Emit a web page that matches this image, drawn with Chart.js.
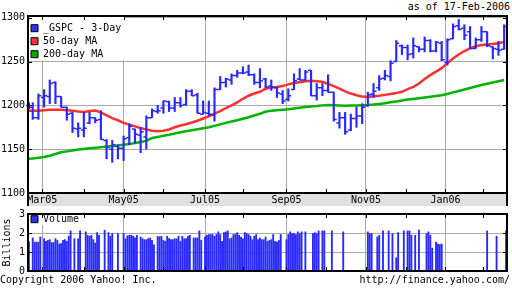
<!DOCTYPE html>
<html>
<head>
<meta charset="utf-8">
<script src="https://cdn.jsdelivr.net/npm/chart.js@4.4.0/dist/chart.umd.min.js"></script>
<style>
  body { margin: 0; width: 512px; height: 288px; background: #fff; position: relative; overflow: hidden;
         font: 10px 'DejaVu Sans Mono', monospace; color: #000; }
  #priceBox { position: absolute; left: 0; top: 0; width: 512px; height: 206px; }
  #volBox { position: absolute; left: 0; top: 205px; width: 512px; height: 83px; }
  .txt { position: absolute; white-space: pre; line-height: 12px; }
</style>
</head>
<body>
<div class="txt" style="right:2px; top:1px">as of 17-Feb-2006</div>
<div id="priceBox"><canvas id="priceChart"></canvas></div>
<div id="volBox"><canvas id="volChart"></canvas></div>
<div class="txt" style="left:0; top:274px">Copyright 2006 Yahoo! Inc.</div>
<div class="txt" style="right:2px; top:274px">http://finance.yahoo.com/</div>
<script>
// trading calendar
const firstDay = '2005-02-17';
const lastDay = '2006-02-17';
const holidays = ['2005-02-21', '2005-03-25', '2005-05-30', '2005-07-04', '2005-09-05',
                  '2005-11-24', '2005-12-26', '2006-01-02', '2006-01-16'];
const monNames = ['Jan', 'Feb', 'Mar', 'Apr', 'May', 'Jun', 'Jul', 'Aug', 'Sep', 'Oct', 'Nov', 'Dec'];
const majorMonths = ['Mar05', 'May05', 'Jul05', 'Sep05', 'Nov05', 'Jan06'];
const priceTicks = [1100, 1150, 1200, 1250, 1300];
const volTicks = [0, 1, 2, 3];

// 3-day bars, oldest first (first one is a single day)
const barOpen = [1200, 1198, 1186, 1209, 1210, 1226, 1210, 1198, 1191, 1173,
                 1172, 1180, 1186, 1184, 1160, 1150, 1153, 1151, 1163, 1173,
                 1166, 1164, 1186, 1193, 1197, 1204, 1197, 1203, 1201, 1216,
                 1212, 1190, 1191, 1189, 1218, 1226, 1229, 1234, 1237, 1238,
                 1235, 1226, 1230, 1222, 1220, 1213, 1207, 1218, 1230, 1229,
                 1240, 1211, 1220, 1217, 1215, 1180, 1186, 1172, 1185, 1188,
                 1200, 1213, 1220, 1231, 1233, 1250, 1268, 1266, 1259, 1267,
                 1264, 1274, 1262, 1271, 1249, 1276, 1291, 1288, 1284, 1265,
                 1275, 1284, 1267, 1264, 1264];
const barHigh = [1203, 1203, 1213, 1218, 1229, 1227, 1210, 1198, 1192, 1180,
                 1192, 1192, 1186, 1194, 1161, 1160, 1155, 1165, 1179, 1173,
                 1175, 1188, 1196, 1200, 1205, 1205, 1209, 1209, 1218, 1218,
                 1214, 1205, 1205, 1220, 1233, 1231, 1236, 1240, 1244, 1246,
                 1236, 1242, 1231, 1229, 1221, 1217, 1219, 1236, 1242, 1240,
                 1240, 1225, 1225, 1235, 1215, 1192, 1192, 1190, 1198, 1202,
                 1215, 1225, 1234, 1240, 1251, 1274, 1269, 1269, 1277, 1267,
                 1278, 1275, 1273, 1273, 1276, 1293, 1298, 1292, 1290, 1277,
                 1290, 1284, 1267, 1273, 1292];
const barLow = [1196, 1184, 1184, 1198, 1202, 1202, 1198, 1183, 1169, 1164,
                1164, 1179, 1180, 1161, 1139, 1135, 1139, 1137, 1155, 1157,
                1146, 1150, 1186, 1191, 1191, 1193, 1193, 1198, 1200, 1211,
                1191, 1190, 1188, 1182, 1218, 1221, 1224, 1232, 1236, 1234,
                1224, 1220, 1220, 1217, 1209, 1202, 1205, 1218, 1229, 1229,
                1211, 1206, 1211, 1215, 1182, 1174, 1167, 1171, 1175, 1179,
                1199, 1209, 1217, 1229, 1228, 1250, 1258, 1252, 1254, 1261,
                1261, 1261, 1261, 1251, 1246, 1276, 1286, 1275, 1265, 1265,
                1273, 1267, 1253, 1257, 1264];
const barClose = [1198, 1186, 1211, 1211, 1225, 1210, 1198, 1190, 1174, 1174,
                  1174, 1186, 1183, 1161, 1152, 1155, 1151, 1162, 1176, 1167,
                  1170, 1186, 1194, 1194, 1205, 1197, 1203, 1200, 1216, 1211,
                  1191, 1192, 1190, 1218, 1226, 1230, 1234, 1237, 1237, 1235,
                  1226, 1228, 1221, 1221, 1214, 1205, 1211, 1228, 1229, 1238,
                  1211, 1220, 1217, 1215, 1184, 1186, 1170, 1185, 1188, 1198,
                  1212, 1216, 1230, 1234, 1248, 1271, 1266, 1258, 1268, 1264,
                  1274, 1262, 1272, 1252, 1275, 1290, 1287, 1280, 1265, 1275,
                  1284, 1268, 1265, 1263, 1290];

// moving averages read at each bar
const ma50 = [1194, 1194, 1194, 1194.5, 1195, 1195, 1195, 1194.5, 1194, 1193,
              1192.5, 1193.5, 1194, 1192, 1188.5, 1185.5, 1183, 1180, 1178, 1176,
              1174, 1172.5, 1171, 1170.5, 1171, 1172.5, 1175, 1177, 1178.5, 1180.5,
              1182.5, 1185, 1187.5, 1190.5, 1193.5, 1197, 1200, 1203.5, 1207.5, 1211,
              1213.5, 1215.5, 1219, 1220.5, 1221, 1222, 1224, 1225.5, 1226.5, 1227.5,
              1228, 1227.5, 1227, 1224.5, 1222, 1219, 1216, 1213.5, 1211.5, 1210,
              1209.5, 1210.5, 1211, 1212, 1213, 1214, 1215.5, 1218.5, 1221, 1225,
              1230, 1234.5, 1238.5, 1242.5, 1248, 1253.5, 1258, 1262, 1265, 1267.5,
              1269, 1269.5, 1270, 1271, 1272.5];
const ma200 = [1138.8, 1139.5, 1140.3, 1141, 1142.5, 1144.5, 1146.5, 1147.5, 1148.6, 1149.6,
               1150.3, 1151, 1151.6, 1152.3, 1153, 1153.7, 1154.3, 1155, 1155.8, 1157,
               1158.3, 1159.5, 1162.8, 1164, 1165.3, 1166.4, 1168, 1169.4, 1170.5, 1171.6,
               1172.7, 1173.8, 1175, 1176.6, 1178.3, 1180, 1181.5, 1183, 1184.7, 1186.4,
               1188.5, 1190.5, 1192.7, 1194, 1194.5, 1195, 1195.5, 1196.5, 1197.3, 1198.2,
               1198.8, 1199.3, 1200, 1200.3, 1200.1, 1199.9, 1199.7, 1199.8, 1200, 1200.2,
               1200.5, 1201, 1201.7, 1202.4, 1203.5, 1204.5, 1205.6, 1206.6, 1207.4, 1208.2,
               1209, 1209.8, 1210.7, 1211.6, 1213, 1214.8, 1216.5, 1218.2, 1219.9, 1221.5,
               1223.2, 1224.6, 1226.1, 1227.6, 1229];

// daily volume in billions, null = no data shown
const volume = [1.55, null, 1.74, 1.52, 1.52, 1.52, 1.79, null, 1.70, 1.56,
                1.61, 1.65, 1.50, 1.50, 1.70, 1.61, 1.42, 1.45, 1.61, 1.65,
                1.56, 1.83, 2.11, null, 1.70, null, 1.70, 2.11, null, null,
                2.06, 1.88, 1.83, 1.88, 1.65, 1.47, 2.02, 1.88, null, null,
                2.15, null, 2.02, 1.83, 1.97, null, null, 1.97, null, null,
                1.97, 1.70, 1.85, 1.88, 1.88, 1.83, 1.74, 1.88, null, 1.79,
                1.70, 1.65, 1.65, 1.70, 1.74, 1.61, 1.38, null, 1.83, 1.80,
                1.83, 1.61, 1.56, 1.83, 1.70, 1.65, 1.65, 1.70, 1.70, 1.83,
                1.56, 1.83, 1.70, 1.70, 1.83, 1.88, null, 1.74, 1.74, 1.74,
                2.11, 1.61, null, 1.80, 1.88, 1.92, 1.92, 1.92, 1.83, 1.92,
                2.06, 1.92, 1.56, 2.02, 2.06, 2.11, 1.70, 1.74, 1.92, 1.92,
                2.02, 1.88, 1.79, 1.70, 2.02, 1.97, 1.92, 1.83, 1.65, 1.83,
                1.92, 1.65, 1.74, 1.65, 1.65, 1.79, 1.56, 1.61, 1.65, 1.92,
                1.56, 1.52, 1.61, 1.92, null, null, 1.65, 1.92, 2.06, 1.97,
                1.97, 1.92, 2.06, 1.97, 2.06, null, 2.06, null, null, null,
                1.97, 2.02, 1.97, 2.11, null, 2.11, 2.11, null, null, null,
                2.11, null, null, null, null, null, 2.06, null, null, null,
                null, null, null, null, null, null, null, null, null, 2.06,
                1.97, 1.97, null, null, 1.79, 1.88, null, 2.11, null, null,
                2.11, null, 1.97, null, 0.70, 2.02, null, null, 2.11, null,
                2.11, 2.11, 1.88, null, 1.88, null, 2.15, null, null, null,
                1.97, 2.06, 1.88, 1.20, null, 1.52, 1.42, 1.39, 1.42, null,
                null, null, null, null, null, null, null, null, null, null,
                null, null, null, null, null, null, null, null, null, null,
                null, null, 2.11, null, null, null, null, 1.83, null, null,
                null, null, 2.11];

const blue = '#2828ff';
const red = '#ff3030';
const green = '#00b400';
const gridGray = '#aaaaaa';

// build trading day list
const tradingDays = [];
for (let d = new Date(firstDay + 'T00:00:00Z'); d <= new Date(lastDay + 'T00:00:00Z'); d.setUTCDate(d.getUTCDate() + 1)) {
    const s = d.toISOString().slice(0, 10);
    const wd = d.getUTCDay();
    if (wd > 0 && wd < 6 && !holidays.includes(s)) tradingDays.push(s);
}

// month ticks at first trading day of each month
const monthTicks = [];
tradingDays.forEach((s, i) => {
    if (i > 0 && s.slice(5, 7) !== tradingDays[i - 1].slice(5, 7)) {
        const lab = monNames[+s.slice(5, 7) - 1] + s.slice(2, 4);
        monthTicks.push({ value: i, label: lab, major: majorMonths.includes(lab) });
    }
});

// bars are grouped by 3 trading days counted back from the last day
const barX = barOpen.map((_, k) => (k === 0 ? 0 : 3 * k - 1));

Chart.defaults.font.family = "'DejaVu Sans Mono', monospace";
Chart.defaults.font.size = 10;
Chart.defaults.color = '#000';

function monthAxis(showLabels) {
    return {
        type: 'linear',
        min: -0.5,
        max: tradingDays.length - 0.5,
        offset: false,
        afterBuildTicks: s => { s.ticks = monthTicks.map(t => ({ value: t.value })); },
        afterFit: s => { s.height = showLabels ? 13 : 0; },
        grid: {
            offset: false,
            drawTicks: false,
            color: c => (monthTicks[c.index] && monthTicks[c.index].major) ? gridGray : 'rgba(0,0,0,0)'
        },
        border: { display: false },
        ticks: {
            display: showLabels,
            autoSkip: false,
            maxRotation: 0,
            padding: 1,
            callback: (v, i) => (monthTicks[i] && monthTicks[i].major ? monthTicks[i].label : '')
        }
    };
}

// vertical legends placed in the chart area start at the canvas top,
// so the empty title pushes the items down into the plot
function legendOpts(titleTop) {
    return {
        position: 'chartArea',
        align: 'start',
        title: { display: true, text: '', font: { size: 1 }, padding: { top: titleTop, bottom: 0 } },
        labels: {
            boxWidth: 7,
            boxHeight: 7,
            padding: 3,
            generateLabels: ch => ch.data.datasets.map((ds, i) => ({
                text: ds.label, fillStyle: ds.legendColor, strokeStyle: '#000',
                lineWidth: 1, datasetIndex: i, hidden: false
            }))
        }
    };
}

// white patch behind the legend, drawn just before the legend itself
const legendBg = {
    id: 'legendBg',
    beforeDraw(chart) {
        const lg = chart.legend;
        if (!lg || lg._bgWrapped) return;
        const orig = lg.draw.bind(lg);
        lg.draw = function () {
            const hb = this.legendHitBoxes, ctx = this.ctx, ca = chart.chartArea;
            if (hb && hb.length) {
                const r = Math.max(...hb.map(b => b.left + b.width));
                const b = Math.max(...hb.map(b => b.top + b.height));
                ctx.save();
                ctx.fillStyle = '#fff';
                ctx.fillRect(ca.left, ca.top, r + 3 - ca.left, b + 1 - ca.top);
                ctx.restore();
            }
            orig();
        };
        lg._bgWrapped = true;
    }
};

// black frame, inner tick marks, and the grey date band
const frame = {
    id: 'frame',
    beforeDraw(chart, args, opts) {
        if (!opts.band) return;
        const { left, right, bottom } = chart.chartArea;
        const ctx = chart.ctx;
        ctx.save();
        ctx.fillStyle = '#e0e0e0';
        ctx.fillRect(left, bottom, right - left, chart.height - bottom);
        ctx.restore();
    },
    afterDraw(chart, args, opts) {
        const { left, right, top, bottom } = chart.chartArea;
        const ctx = chart.ctx, xs = chart.scales.x, ys = chart.scales.y;
        ctx.save();
        ctx.strokeStyle = '#000';
        ctx.lineWidth = 1;
        ctx.beginPath();
        monthTicks.forEach(t => {
            const px = Math.round(xs.getPixelForValue(t.value)) + 0.5;
            ctx.moveTo(px, top); ctx.lineTo(px, top + 4);
            ctx.moveTo(px, bottom); ctx.lineTo(px, bottom - 4);
        });
        ys.ticks.forEach(t => {
            const py = Math.round(ys.getPixelForValue(t.value)) + 0.5;
            ctx.moveTo(left, py); ctx.lineTo(left + 4, py);
            ctx.moveTo(right, py); ctx.lineTo(right - 4, py);
        });
        ctx.stroke();
        ctx.lineWidth = 2;
        ctx.strokeRect(left, top, right - left, bottom - top);
        if (opts.band) {
            ctx.beginPath();
            ctx.moveTo(left, bottom); ctx.lineTo(left, chart.height);
            ctx.moveTo(right, bottom); ctx.lineTo(right, chart.height);
            ctx.stroke();
        }
        ctx.restore();
    }
};

// open (left) and close (right) ticks on the 3-day bars
const ohlcTicks = {
    id: 'ohlcTicks',
    afterDatasetsDraw(chart) {
        const meta = chart.getDatasetMeta(0);
        const ys = chart.scales.y, ctx = chart.ctx;
        ctx.save();
        ctx.strokeStyle = blue;
        ctx.lineWidth = 1.5;
        ctx.beginPath();
        meta.data.forEach((el, i) => {
            const yo = ys.getPixelForValue(barOpen[i]);
            const yc = ys.getPixelForValue(barClose[i]);
            ctx.moveTo(el.x - 3, yo); ctx.lineTo(el.x, yo);
            ctx.moveTo(el.x, yc); ctx.lineTo(el.x + 3, yc);
        });
        ctx.stroke();
        ctx.restore();
    }
};

const priceChart = new Chart(document.getElementById('priceChart').getContext('2d'), {
    type: 'bar',
    data: {
        datasets: [{
            type: 'bar',
            label: '_GSPC - 3-Day',
            legendColor: '#3030ff',
            data: barX.map((x, i) => ({ x: x, y: [barLow[i], barHigh[i]] })),
            backgroundColor: blue,
            barThickness: 1.5,
            grouped: false,
            order: 0
        }, {
            type: 'line',
            label: '50-day MA',
            legendColor: '#ff3333',
            data: barX.map((x, i) => ({ x: x, y: ma50[i] })),
            borderColor: red,
            borderWidth: 2.5,
            pointRadius: 0,
            tension: 0,
            order: 1
        }, {
            type: 'line',
            label: '200-day MA',
            legendColor: '#00aa00',
            data: barX.map((x, i) => ({ x: x, y: ma200[i] })),
            borderColor: green,
            borderWidth: 2.5,
            pointRadius: 0,
            tension: 0,
            order: 2
        }]
    },
    options: {
        responsive: true,
        maintainAspectRatio: false,
        animation: false,
        events: [],
        layout: { padding: { top: 16, right: 5, left: 0, bottom: 0 } },
        scales: {
            x: monthAxis(true),
            y: {
                min: 1100,
                max: 1302,
                afterBuildTicks: s => { s.ticks = priceTicks.map(v => ({ value: v })); },
                afterFit: s => { s.width = 28; },
                grid: { drawTicks: false, color: gridGray },
                border: { display: false },
                ticks: { padding: 3, callback: v => String(v) }
            }
        },
        plugins: {
            legend: legendOpts(19),
            tooltip: { enabled: false },
            frame: { band: true }
        }
    },
    plugins: [frame, ohlcTicks, legendBg]
});

const volChart = new Chart(document.getElementById('volChart').getContext('2d'), {
    type: 'bar',
    data: {
        datasets: [{
            label: 'Volume',
            legendColor: '#3030ff',
            data: volume.map((v, i) => (v == null ? null : { x: i, y: v })).filter(p => p),
            backgroundColor: blue,
            barThickness: 1.2,
            grouped: false
        }]
    },
    options: {
        responsive: true,
        maintainAspectRatio: false,
        animation: false,
        events: [],
        layout: { padding: { top: 1, right: 5, left: 0, bottom: 17 } },
        scales: {
            x: monthAxis(false),
            y: {
                min: 0,
                max: 3,
                afterBuildTicks: s => { s.ticks = volTicks.map(v => ({ value: v })); },
                afterFit: s => { s.width = 28; },
                grid: { drawTicks: false, color: gridGray },
                border: { display: false },
                title: { display: true, text: 'Billions', padding: { top: 1, bottom: 0 } },
                ticks: { padding: 3, callback: v => String(v) }
            }
        },
        plugins: {
            legend: legendOpts(5),
            tooltip: { enabled: false },
            frame: { band: false }
        }
    },
    plugins: [frame, legendBg]
});
</script>
</body>
</html>
